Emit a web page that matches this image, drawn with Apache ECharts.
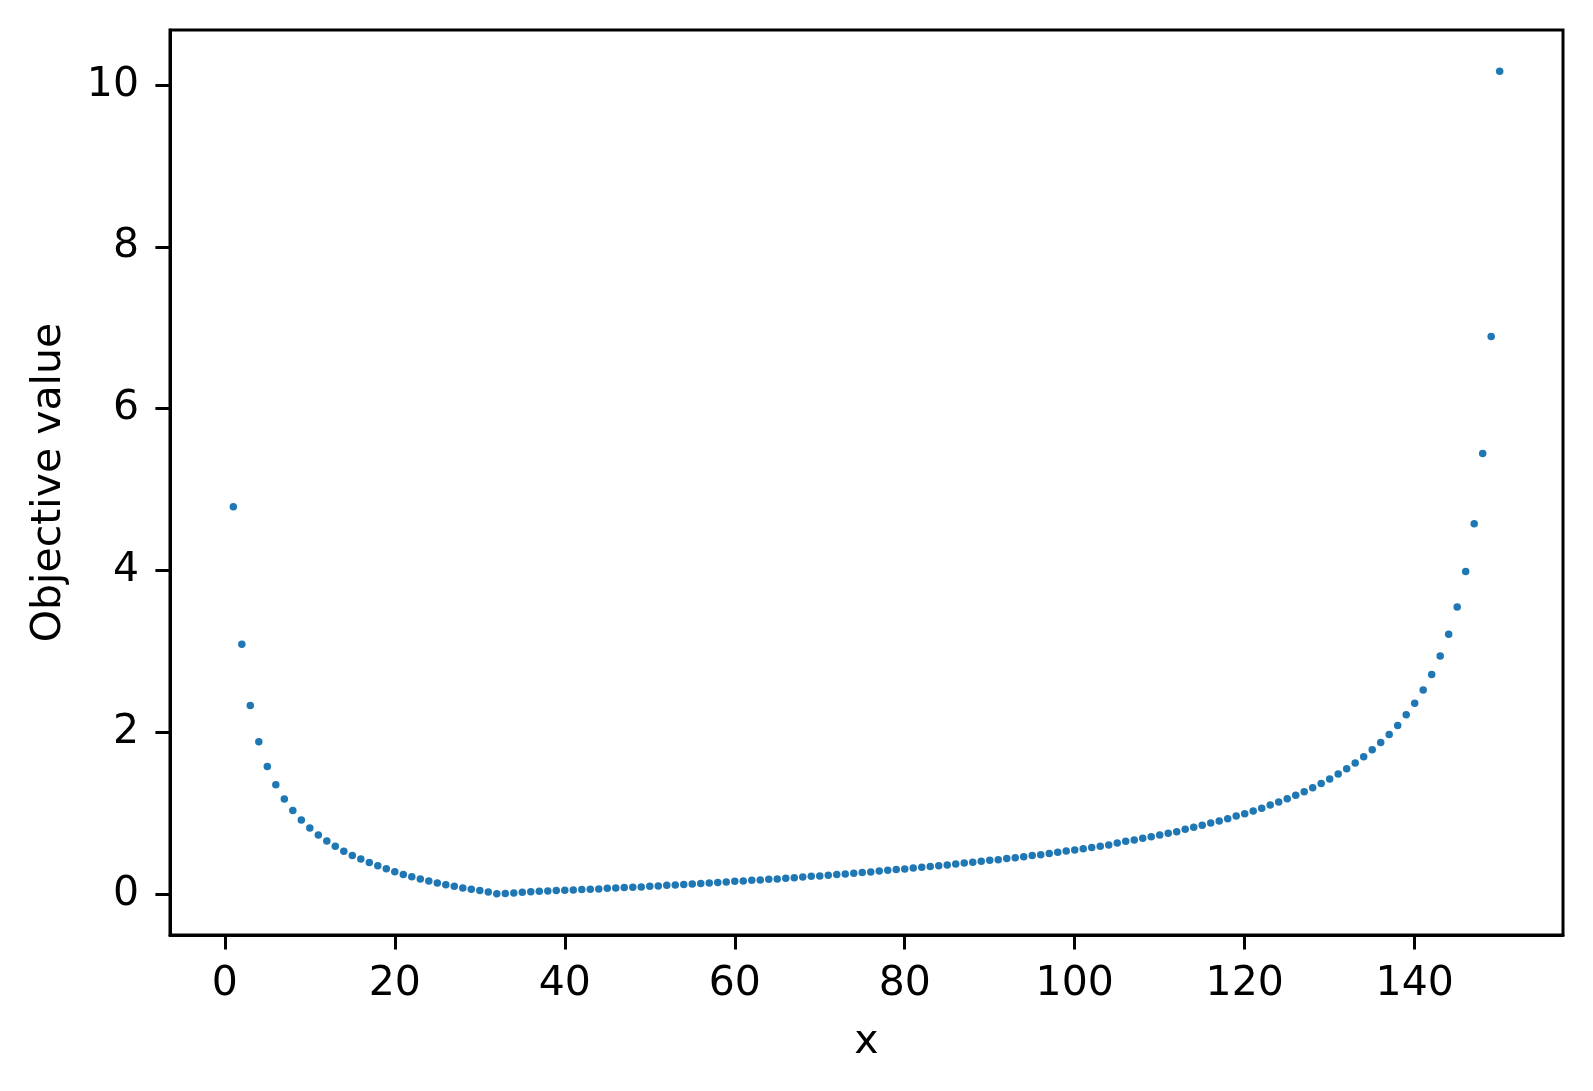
<!DOCTYPE html>
<html>
<head>
<meta charset="utf-8">
<script src="https://cdn.jsdelivr.net/npm/echarts@6/dist/echarts.min.js"></script>
<style>
html,body{margin:0;padding:0;background:#fff;}
#chart{width:1593px;height:1091px;}
</style>
</head>
<body>
<div id="chart"></div>
<script>
const xValues = [1,2,3,4,5,6,7,8,9,10,11,12,13,14,15,16,17,18,19,20,21,22,23,24,25,26,27,28,29,30,
31,32,33,34,35,36,37,38,39,40,41,42,43,44,45,46,47,48,49,50,51,52,53,54,55,56,57,58,59,60,
61,62,63,64,65,66,67,68,69,70,71,72,73,74,75,76,77,78,79,80,81,82,83,84,85,86,87,88,89,90,
91,92,93,94,95,96,97,98,99,100,101,102,103,104,105,106,107,108,109,110,111,112,113,114,115,116,117,118,119,120,
121,122,123,124,125,126,127,128,129,130,131,132,133,134,135,136,137,138,139,140,141,142,143,144,145,146,147,148,149,150];

const objectiveValues = [
4.785,3.086,2.328,1.880,1.575,1.349,1.173,1.032,0.913,0.815,
0.728,0.654,0.588,0.527,0.475,0.430,0.388,0.347,0.312,0.275,
0.240,0.212,0.185,0.160,0.134,0.113,0.094,0.074,0.057,0.041,
0.022,0.003,0.004,0.012,0.020,0.026,0.032,0.037,0.041,0.045,
0.049,0.053,0.057,0.061,0.068,0.073,0.078,0.082,0.086,0.093,
0.098,0.106,0.111,0.115,0.122,0.127,0.134,0.142,0.148,0.155,
0.160,0.167,0.172,0.180,0.185,0.192,0.200,0.209,0.218,0.222,
0.230,0.238,0.247,0.255,0.263,0.271,0.284,0.292,0.300,0.308,
0.321,0.329,0.337,0.349,0.358,0.370,0.382,0.391,0.403,0.415,
0.423,0.436,0.448,0.460,0.473,0.485,0.498,0.514,0.530,0.543,
0.559,0.572,0.588,0.605,0.630,0.650,0.666,0.687,0.707,0.728,
0.749,0.769,0.798,0.823,0.847,0.876,0.901,0.930,0.963,0.991,
1.024,1.057,1.098,1.135,1.177,1.218,1.263,1.312,1.364,1.421,
1.481,1.547,1.617,1.695,1.781,1.872,1.971,2.082,2.214,2.358,
2.520,2.711,2.940,3.210,3.547,3.984,4.576,5.443,6.892,10.170];

const xTicks = [0,20,40,60,80,100,120,140];
const yTicks = [0,2,4,6,8,10];
const xLabel = 'x';
const yLabel = 'Objective value';

const FONT = 'DejaVu Sans';
const FS = 41;

const chart = echarts.init(document.getElementById('chart'), null, {renderer:'canvas'});
const points = xValues.map((x, i) => [x, objectiveValues[i]]);

chart.setOption({
  animation: false,
  backgroundColor: '#fff',
  grid: {
    left: 170, right: 30, top: 30, bottom: 156,
    show: true, borderColor: '#000', borderWidth: 3, backgroundColor: 'transparent'
  },
  xAxis: {
    type: 'value',
    min: -6.45, max: 157.45,
    name: xLabel,
    nameLocation: 'middle',
    nameGap: 87,
    nameTextStyle: {fontFamily: FONT, fontSize: FS, color: '#000'},
    axisLine: {show: true, onZero: false, lineStyle: {color: '#000', width: 3}},
    axisTick: {show: true, length: 14.6, lineStyle: {color: '#000', width: 3}, customValues: xTicks},
    axisLabel: {show: true, margin: 29, fontFamily: FONT, fontSize: FS, color: '#000', customValues: xTicks, showMinLabel: true, showMaxLabel: true},
    splitLine: {show: false}
  },
  yAxis: {
    type: 'value',
    min: -0.5085, max: 10.68,
    name: yLabel,
    nameLocation: 'middle',
    nameGap: 100,
    nameRotate: 90,
    nameTextStyle: {fontFamily: FONT, fontSize: FS, color: '#000'},
    axisLine: {show: true, onZero: false, lineStyle: {color: '#000', width: 3}},
    axisTick: {show: true, length: 14.6, lineStyle: {color: '#000', width: 3}, customValues: yTicks},
    axisLabel: {show: true, margin: 31, fontFamily: FONT, fontSize: FS, color: '#000', customValues: yTicks},
    splitLine: {show: false}
  },
  series: [{
    type: 'scatter',
    data: points,
    symbol: 'circle',
    symbolSize: 7.5,
    itemStyle: {color: '#1f77b4', opacity: 1},
    silent: true
  }]
});
</script>
</body>
</html>
